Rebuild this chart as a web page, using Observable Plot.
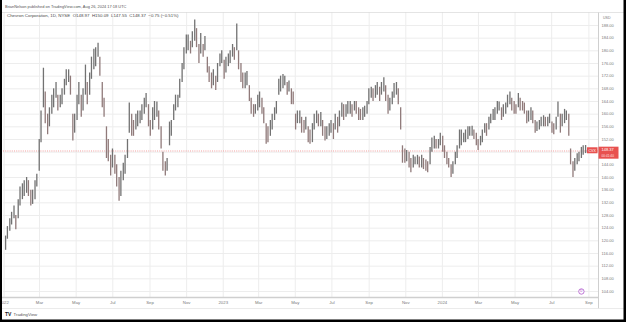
<!DOCTYPE html>
<html><head><meta charset="utf-8">
<script src="https://cdn.jsdelivr.net/npm/d3@7"></script>
<script src="https://cdn.jsdelivr.net/npm/@observablehq/plot@0.6"></script>
<style>
html,body{margin:0;padding:0;background:#fff;}
#wrap{position:relative;width:626px;height:322px;overflow:hidden;}
svg{font-family:"Liberation Sans",Arial,sans-serif;}
</style></head>
<body><div id="wrap"></div>
<script>
// Half-week bars (Mon–Wed, Thu–Fri) from the week of 2022-01-03 to 2024-08-26
const barLow = [
117,120.5, 123,125, 127,123.5, 127,131, 133,134, 135,134, 131,131.5, 133,137, 142,151, 162,157,
153.5,156, 160,162, 165,161, 162,163, 166,169, 170,166, 151.5,154, 158,163, 159,161, 166,163,
166,171, 174,175, 178,172, 162,159, 146,145, 140.5,143, 141,137, 132.5,134, 139,141, 146,154,
153,153, 155,156, 157,158, 160,162, 156,153, 155,158, 159,155, 149,142, 140.5,142, 150,153,
158,161, 162,165, 170,174, 179,180, 179,181, 183,181, 176,179, 178,180, 173,170, 168,169,
167.5,170, 175,176, 171,173, 175,176, 178,177, 180,174, 170,168, 168,169, 164,160, 159,160,
161,162, 160,157, 150.5,151, 153,155, 158,160, 166,167, 168,169, 166,167, 163,163, 155,157,
157,154, 154,155, 151,150.5, 151,155, 157,156, 156,153, 151.5,152, 153,154, 152,155, 154,156,
159,158, 159,160, 160,159, 161,160, 158,158, 158,159, 160,163, 165,164, 165,166, 164,166,
167,164, 160,161, 163,165, 166,163, 155,144.5, 144.5,145, 143,141.5, 143,144, 144,143, 143,142.5,
142,141.5, 144,148, 149,149, 149,150, 148,146, 144,143, 140,141, 144,146, 149,150, 151,151,
152,153, 153,152, 150,148.5, 150,151, 154,153, 155,157, 158,158, 160,161, 158,159, 160,162,
163,161, 160,160, 162,161, 161,160, 157,157.5, 158,157, 154,154.5, 155,156, 156,156, 156,157,
154,153.5, 155,159, 154,156, 157,158, 153,144, 140,142, 144,145, 146,147, 147.55
];
const barHigh = [
121.5,124.5, 127,129, 131,128, 133,137, 138,139, 140,139, 136,136, 139,141, 152,161, 174.5,167,
160,162, 166,168, 170,166, 166,168, 171,174, 174,172, 160,160, 166,170, 166,168, 175.5,170,
173,178, 180.5,181, 182.4,178, 170,165, 156,152, 147,149, 147,144, 140,142, 144.5,147, 152,163.5,
160,158, 160,161, 161,163, 165,166.5, 163,158, 162,164, 163.8,161, 156,148, 145,146, 157.5,158,
163,166, 166,171, 176,181, 185,185, 183,186, 189.7,187, 182,185.5, 182,184.5, 178,175, 173,174,
172,176, 179,180, 177,178, 179,180, 182,181, 188.5,180, 176,173, 173,173.5, 169,165, 163,163,
166,167, 165,162, 157,156, 158,160, 162,164, 171,172, 172.5,172, 170,170.5, 168,167, 160,161,
161,159, 158,159, 156,155, 157,160, 161,160, 160.5,158, 156,156, 157,158, 157,160, 159,161,
163.5,163, 163,164, 164,163, 164,164, 162,161.5, 162,162.5, 164,168, 168.5,168, 169,170, 168.5,170,
171.5,169, 166,165, 167,169.7, 170,168, 162,150, 149,148.5, 148,146, 147,146.5, 147,146.5, 147,146,
145.5,145, 149.5,152.5, 153,152, 152,154, 153,150, 148,146, 144,145, 148,150, 155,155, 154,155,
156,156, 156.2,155, 154,152, 153,155, 157,157, 159,160, 161.5,162, 164,163.8, 162,163, 163.5,166,
167,165, 164,163, 166.5,165, 164,163.5, 161,161, 162,161, 158,157.5, 158,159, 159.5,159, 159,160,
157.5,157, 159,163.8, 160,160, 161.5,161, 160,149, 145,146, 147.5,148, 149.5,150, 150.09
];
const priceTicks = [104,108,112,116,120,124,128,132,136,140,144,148,152,156,160,164,168,172,176,180,184,188];
const timeTicks = ["2022-01-01","2022-03-01","2022-05-01","2022-07-01","2022-09-01","2022-11-01",
  "2023-01-01","2023-03-01","2023-05-01","2023-07-01","2023-09-01","2023-11-01",
  "2024-01-01","2024-03-01","2024-05-01","2024-07-01","2024-09-01"];
const monthNames = ["Jan","Feb","Mar","Apr","May","Jun","Jul","Aug","Sep","Oct","Nov","Dec"];
const lastClose = 148.37;
const dividendDates = ["2024-08-19"];
const headerText = "BrianNelson published on TradingView.com, Aug 26, 2024 17:18 UTC";
const legendText = "Chevron Corporation, 1D, NYSE  O148.97  H150.09  L147.55  C148.37  \u22120.75 (\u22120.51%)";

const DAY = 864e5;
const firstMonday = Date.UTC(2022, 0, 3);
const bars = barLow.map((lo, i) => {
  const wk = Math.floor(i / 2), half = i % 2;
  return {date: new Date(firstMonday + (wk * 7 + (half ? 3.5 : 0.5)) * DAY), lo, hi: barHigh[i]};
});
bars.forEach((b, i) => {
  const prev = i ? bars[i - 1] : b;
  b.up = (b.lo + b.hi) >= (prev.lo + prev.hi);
});
const tickDates = timeTicks.map(s => new Date(s + "T00:00:00Z"));
// the last-price badge covers the axis label nearest to it
const labelTicks = priceTicks.filter(p => Math.abs(p - lastClose) > 2);

const plot = Plot.plot({
  width: 626, height: 322,
  marginLeft: 3, marginRight: 28, marginTop: 12, marginBottom: 25,
  x: {type: "utc", domain: [new Date(Date.UTC(2021, 11, 31)), new Date(Date.UTC(2024, 8, 17))]},
  y: {domain: [102.1, 192.1]},
  style: {background: "#fff", overflow: "hidden"},
  marks: [
    Plot.gridY(priceTicks, {stroke: "#ededed", strokeOpacity: 1}),
    Plot.gridX(tickDates, {stroke: "#ededed", strokeOpacity: 1}),
    Plot.ruleY([lastClose], {stroke: "#f08a8a", strokeWidth: 0.8, strokeDasharray: "1,1.2"}),
    Plot.ruleX(bars.filter(d => d.up), {x: "date", y1: "lo", y2: "hi", stroke: "#727272", strokeWidth: 1.3, clip: true}),
    Plot.ruleX(bars.filter(d => !d.up), {x: "date", y1: "lo", y2: "hi", stroke: "#907a7a", strokeWidth: 1.3, clip: true}),
    Plot.axisY(labelTicks, {anchor: "right", tickSize: 0, tickPadding: 3, tickFormat: d3.format(".2f"), fontSize: 4, fill: "#7a7a7a"}),
    Plot.axisX(tickDates, {anchor: "bottom", tickSize: 0, tickPadding: 3.5, fontSize: 4.3, fill: "#7a7a7a",
      tickFormat: d => d.getUTCMonth() === 0 ? String(d.getUTCFullYear()) : monthNames[d.getUTCMonth()]}),
    Plot.dot(dividendDates.map(s => new Date(s + "T12:00:00Z")), {x: d => d, frameAnchor: "bottom", dy: -6, r: 2.7, stroke: "#a33fc4", strokeWidth: 0.7, fill: "#fff"}),
    Plot.text(dividendDates.map(s => new Date(s + "T12:00:00Z")), {x: d => d, frameAnchor: "bottom", dy: -6, text: () => "D", fontSize: 3, fill: "#a33fc4"})
  ]
});
document.getElementById("wrap").appendChild(plot);

const svg = d3.select(plot);
const yS = plot.scale("y");
const yc = yS.apply(lastClose);
const g = svg.append("g").attr("text-anchor", "start");
// panel frame lines
g.append("line").attr("x1", 2).attr("x2", 624).attr("y1", 12.5).attr("y2", 12.5).attr("stroke", "#d9d9d9").attr("stroke-width", 0.7);
g.append("line").attr("x1", 2).attr("x2", 598.5).attr("y1", 297.5).attr("y2", 297.5).attr("stroke", "#cfcfcf").attr("stroke-width", 1.4);
g.append("line").attr("x1", 598.5).attr("x2", 598.5).attr("y1", 12.5).attr("y2", 308.5).attr("stroke", "#cfcfcf").attr("stroke-width", 1);
g.append("line").attr("x1", 2).attr("x2", 624).attr("y1", 308.5).attr("y2", 308.5).attr("stroke", "#e2e2e2").attr("stroke-width", 0.7);
// header & legend
g.append("text").attr("x", 5).attr("y", 7.6).attr("font-size", 3.95).attr("fill", "#555").text(headerText);
g.append("text").attr("x", 7).attr("y", 17).attr("font-size", 4.4).attr("fill", "#4a4a4a").style("white-space", "pre").text(legendText);
// USD label
g.append("rect").attr("x", 599.5).attr("y", 13).attr("width", 20).attr("height", 8).attr("fill", "#fff");
g.append("text").attr("x", 603).attr("y", 18.5).attr("font-size", 3.6).attr("fill", "#777").text("USD");
// last price labels
g.append("rect").attr("x", 587).attr("y", yc - 3.2).attr("width", 10.5).attr("height", 6).attr("fill", "#e8514f");
g.append("text").attr("x", 592.2).attr("y", yc + 1.2).attr("text-anchor", "middle").attr("font-size", 3.6).attr("fill", "#fff").text("CVX");
g.append("rect").attr("x", 598.5).attr("y", yc - 3.8).attr("width", 20).attr("height", 12).attr("fill", "#e8514f");
g.append("text").attr("x", 601.5).attr("y", yc + 1).attr("font-size", 4).attr("fill", "#fff").text(lastClose.toFixed(2));
g.append("text").attr("x", 601.5).attr("y", yc + 6.9).attr("font-size", 3.2).attr("fill", "#ffe3e3").text("00:41:40");
// footer logo
g.append("text").attr("x", 5).attr("y", 315.5).attr("font-size", 5).attr("font-weight", "bold").attr("fill", "#131722").text("TV");
g.append("text").attr("x", 13.5).attr("y", 315.5).attr("font-size", 4.3).attr("fill", "#555").text("TradingView");
// outer black border (left, right, bottom)
g.append("rect").attr("x", 0).attr("y", 0).attr("width", 2).attr("height", 322).attr("fill", "#000");
g.append("rect").attr("x", 623.5).attr("y", 0).attr("width", 2.5).attr("height", 322).attr("fill", "#000");
g.append("rect").attr("x", 0).attr("y", 319.5).attr("width", 626).attr("height", 2.5).attr("fill", "#000");
</script>
</body></html>
